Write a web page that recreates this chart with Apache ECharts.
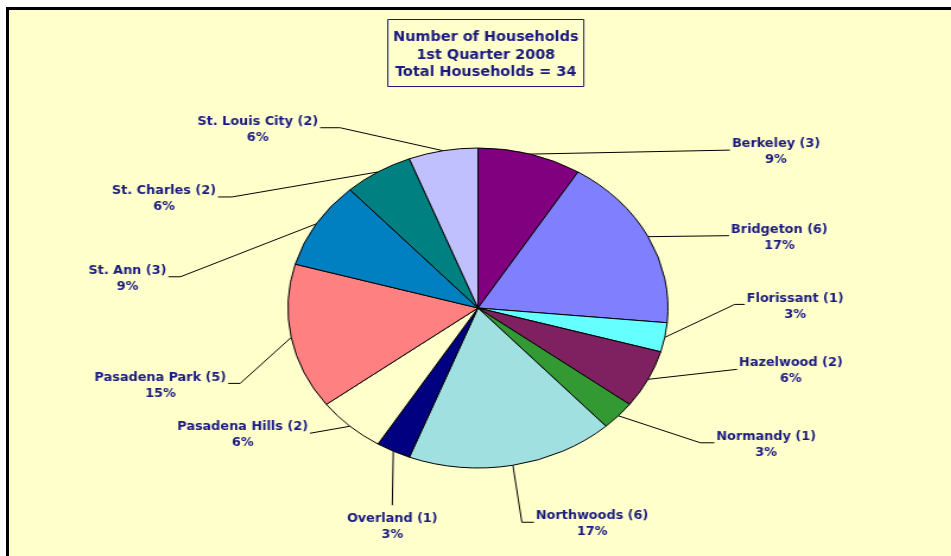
<!DOCTYPE html>
<html lang="en">
<head>
  <meta charset="UTF-8">
  <title>Number of Households</title>
  <style>
    html, body { margin: 0; padding: 0; background: #fff; overflow: hidden; }
    #frame {
      position: absolute; left: 6px; top: 7px; width: 960px; height: 560px;
      border: 3px solid #000; background: #ffffcc;
    }
    /* pie in the reference is an ellipse, so stretch the chart horizontally */
    #main {
      position: absolute; left: 0; top: 0; width: 801px; height: 556px;
      transform: scaleX(1.1875); transform-origin: 0 0;
    }
  </style>
</head>
<body>
  <div id="frame"></div>
  <div id="main"></div>
  <script src="https://cdn.jsdelivr.net/npm/echarts@6/dist/echarts.min.js"></script>
  <script>
    // data
    const areas = ['Berkeley', 'Bridgeton', 'Florissant', 'Hazelwood', 'Normandy', 'Northwoods',
      'Overland', 'Pasadena Hills', 'Pasadena Park', 'St. Ann', 'St. Charles', 'St. Louis City'];
    const households = [3, 6, 1, 2, 1, 6, 1, 2, 5, 3, 2, 2];
    const sliceColors = ['#800080', '#8080ff', '#66ffff', '#7f2060', '#339933', '#a0e0e0',
      '#000080', '#ffffcc', '#ff8080', '#0080c0', '#008080', '#c0c0ff'];
    const titleLines = ['Number of Households', '1st Quarter 2008', 'Total Households = 34'];

    const SX = 1.1875; // horizontal stretch of the chart div
    const font = '"Liberation Sans Narrow", "DejaVu Sans Condensed", Arial, sans-serif';
    const navy = '#1a1a80';

    // leader line bend, in screen px from the slice edge: [dx, dy, tail, side]
    const leader = [
      [200, -4, 0, 'r'], [81, -1, 0, 'r'], [70, -33, 10, 'r'], [89, -10, 0, 'r'],
      [82, 27, 14, 'r'], [9, 57, 12, 'r'], [-1, 54, 0, 'b'], [-40, 7, 0, 'l'],
      [-51, 46, -12, 'l'], [-136, 53, -12, 'l'], [-146, 25, -14, 'l'], [-103, -23, -20, 'l']
    ];

    let myChart = echarts.init(document.getElementById('main'));
    let option = {
      animation: false,
      color: sliceColors,
      title: {
        text: titleLines.join('\n'),
        left: 404.5, top: 19,
        textAlign: 'center',
        borderColor: navy, borderWidth: 1,
        padding: [10, 4.6, 5, 4.6],
        textStyle: {
          color: navy, fontFamily: font, fontWeight: 'bold', fontSize: 13.5, lineHeight: 17.5
        }
      },
      series: [
        {
          type: 'pie',
          center: [402.5, 308],
          radius: 160,
          startAngle: 90,
          clockwise: true,
          percentPrecision: 0,
          avoidLabelOverlap: false,
          data: areas.map((n, i) => ({ name: n, value: households[i] })),
          itemStyle: { borderColor: '#000', borderWidth: 1 },
          label: {
            formatter: '{t|{b} ({c})}\n{t|{d}%}',
            rich: {
              t: { align: 'center', color: navy, fontFamily: font, fontWeight: 'bold', fontSize: 12, lineHeight: 16 }
            }
          },
          labelLine: {
            length: 10, length2: 10,
            lineStyle: { color: '#000', width: 1 }
          },
          labelLayout: function (params) {
            const p0 = params.labelLinePoints[0];
            const [dx, dy, tail, side] = leader[params.dataIndex];
            const knee = [p0[0] + dx / SX, p0[1] + dy];
            const end = [knee[0] + tail / SX, knee[1]];
            if (side === 'b') {
              return { x: end[0], y: end[1] + 6, align: 'center', verticalAlign: 'top',
                labelLinePoints: [p0, knee, end] };
            }
            return {
              x: end[0] + (side === 'r' ? 2 : -2) / SX, y: end[1] + 2,
              align: side === 'r' ? 'left' : 'right', verticalAlign: 'middle',
              labelLinePoints: [p0, knee, end]
            };
          },
          emphasis: { disabled: true }
        }
      ]
    };
    myChart.setOption(option);
  </script>
</body>
</html>
